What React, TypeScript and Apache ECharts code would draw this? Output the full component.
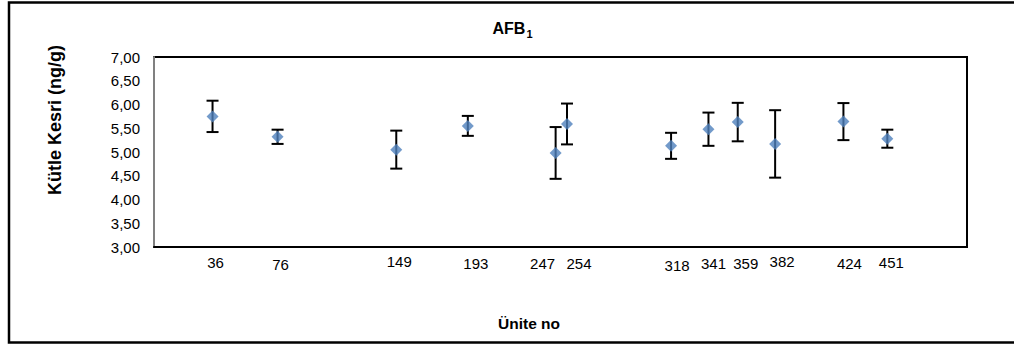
import React, { useEffect, useRef } from "react";
import * as echarts from "echarts";

// Data
const units = [36, 76, 149, 193, 247, 254, 318, 341, 359, 382, 424, 451];
const means = [5.75, 5.32, 5.05, 5.55, 4.98, 5.59, 5.13, 5.48, 5.63, 5.17, 5.64, 5.28];
const errors = [0.33, 0.15, 0.4, 0.21, 0.545, 0.43, 0.274, 0.35, 0.405, 0.71, 0.39, 0.19];
const yTicks = [3, 3.5, 4, 4.5, 5, 5.5, 6, 6.5, 7];

// Manual nudges of the unit-number labels (as in the source chart)
const labelDx = [3, 3, 3, 8, -13, 12, 6, 5, 8, 7, 6, 4];
const labelDy = [-1, 1, -2, 0, 0, 0, 2, 0, 0, -2, 0, -1];

const FONT = "'Liberation Sans', Arial, sans-serif";

export default function App() {
  const ref = useRef<HTMLDivElement>(null);
  useEffect(() => {
    if (!ref.current) return;
    const chart = echarts.init(ref.current, null, { renderer: "svg" });
    const fmt = (v: number) => v.toFixed(2).replace(".", ",");
    chart.setOption({
      animation: false,
      textStyle: { fontFamily: FONT },
      grid: {
        left: 154,
        top: 57,
        width: 813,
        height: 190,
        show: true,
        borderColor: "#000",
        borderWidth: 2,
        backgroundColor: "transparent",
      },
      xAxis: {
        type: "value",
        min: 0,
        max: 500,
        axisLine: { show: true, lineStyle: { color: "#000", width: 2 } },
        axisTick: { show: false },
        axisLabel: { show: false },
        splitLine: { show: false },
      },
      yAxis: {
        type: "value",
        min: yTicks[0],
        max: yTicks[yTicks.length - 1],
        interval: 0.5,
        axisLine: { show: true, lineStyle: { color: "#808080", width: 2 } },
        axisTick: { show: false },
        splitLine: { show: false },
        axisLabel: {
          margin: 14,
          color: "#000",
          fontSize: 15,
          fontFamily: FONT,
          formatter: (v: number) => fmt(v),
        },
      },
      graphic: [
        {
          type: "rect",
          shape: { x: 9, y: 2.5, width: 1100, height: 340 },
          style: { fill: "none", stroke: "#000", lineWidth: 2.5 },
          silent: true,
        },
        {
          type: "text",
          x: 492.5,
          y: 28,
          style: {
            text: "AFB",
            fontSize: 16,
            fontWeight: "bold",
            fontFamily: FONT,
            fill: "#000",
            textAlign: "left",
            textVerticalAlign: "middle",
          },
        },
        {
          type: "text",
          x: 526.5,
          y: 33.5,
          style: {
            text: "1",
            fontSize: 11,
            fontWeight: "bold",
            fontFamily: FONT,
            fill: "#000",
            textAlign: "left",
            textVerticalAlign: "middle",
          },
        },
        {
          type: "text",
          x: 55,
          y: 120,
          rotation: Math.PI / 2,
          style: {
            text: "Kütle Kesri (ng/g)",
            fontSize: 18,
            fontWeight: "bold",
            fontFamily: FONT,
            fill: "#000",
            textAlign: "center",
            textVerticalAlign: "middle",
          },
        },
        {
          type: "text",
          x: 529,
          y: 323,
          style: {
            text: "Ünite no",
            fontSize: 15.5,
            fontWeight: "bold",
            fontFamily: FONT,
            fill: "#000",
            textAlign: "center",
            textVerticalAlign: "middle",
          },
        },
      ],
      series: [
        {
          type: "custom",
          z: 2,
          clip: false,
          data: units.map((u, i) => [u, means[i] - errors[i], means[i] + errors[i]]),
          renderItem: (params: any, api: any) => {
            const x = api.value(0);
            const lo = api.coord([x, api.value(1)]);
            const hi = api.coord([x, api.value(2)]);
            const hw = 6;
            const st = { stroke: "#000", lineWidth: 2 };
            return {
              type: "group",
              children: [
                { type: "line", shape: { x1: lo[0], y1: lo[1], x2: hi[0], y2: hi[1] }, style: st },
                { type: "line", shape: { x1: hi[0] - hw, y1: hi[1], x2: hi[0] + hw, y2: hi[1] }, style: st },
                { type: "line", shape: { x1: lo[0] - hw, y1: lo[1], x2: lo[0] + hw, y2: lo[1] }, style: st },
              ],
            };
          },
        },
        {
          type: "scatter",
          symbol: "diamond",
          symbolSize: [12, 12],
          itemStyle: { color: "#4F81BD" },
          data: units.map((u, i) => [u, means[i]]),
          z: 3,
        },
        {
          type: "custom",
          z: 4,
          clip: false,
          silent: true,
          data: units.map((u, i) => [u, yTicks[0], labelDx[i], labelDy[i]]),
          renderItem: (params: any, api: any) => {
            const u = api.value(0);
            const p = api.coord([u, api.value(1)]);
            return {
              type: "text",
              x: p[0] + api.value(2),
              y: p[1] + 16 + api.value(3),
              style: {
                text: String(u),
                fill: "#000",
                fontSize: 15,
                fontFamily: FONT,
                textAlign: "center",
                textVerticalAlign: "middle",
              },
            };
          },
        },
      ],
    });
    return () => chart.dispose();
  }, []);
  return (
    <div
      ref={ref}
      style={{ position: "fixed", left: 0, top: 0, width: 1014, height: 345, background: "#fff" }}
    />
  );
}
